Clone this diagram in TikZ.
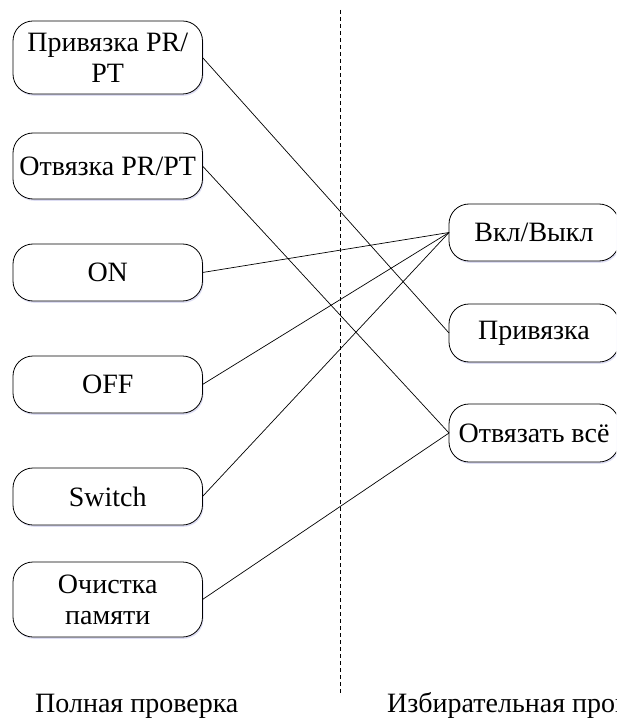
\documentclass[tikz,border=0pt]{standalone}
\usepackage{fontspec}
\setmainfont{Liberation Serif}
\usetikzlibrary{shadows}
\begin{document}
\begin{tikzpicture}[x=1pt,y=-1pt,
  box/.style={draw=black, line width=0.8pt, fill=white, rounded corners=20pt,
    inner sep=0pt, outer sep=0pt, align=center,
    font=\fontsize{28pt}{31pt}\selectfont,
    drop shadow={shadow xshift=1pt, shadow yshift=-1.8pt, fill=blue!50!gray, opacity=0.18}},
  lbox/.style={box, minimum width=189.5pt},
  rbox/.style={box, minimum width=170pt},
  link/.style={draw=black, line width=0.7pt},
  caption/.style={inner sep=0pt, anchor=base west, font=\fontsize{28pt}{31pt}\selectfont}]
\useasboundingbox (0,0) rectangle (616,719);
\clip (0,0) rectangle (616,719);

% separator between the two groups
\draw[line width=0.8pt, dash pattern=on 4pt off 3pt] (340.7,10) coordinate (sepTop) -- (340.7,693) coordinate (sepBot);

% left column: full check commands
\node[lbox, minimum height=73pt] (bind)   at (107.75,57.5)  {Привязка PR/\\PT};
\node[lbox, minimum height=66pt] (unbind) at (107.75,166)   {Отвязка PR/PT};
\node[lbox, minimum height=57pt] (on)     at (107.75,272.5) {ON};
\node[lbox, minimum height=57pt] (off)    at (107.75,384.5) {OFF};
\node[lbox, minimum height=57pt] (sw)     at (107.75,496.5) {Switch};
\node[lbox, minimum height=75pt] (clr)    at (107.75,599.5) {Очистка\\памяти};

% right column: selective check commands
\node[rbox, minimum height=57pt] (onoff)  at (534,232.5) {Вкл/Выкл};
\node[rbox, minimum height=58pt] (rbind)  at (534,333)   {Привязка};
\node[rbox, minimum height=58pt] (rall)   at (534,433)   {Отвязать всё};

% mappings
\draw[link] (bind.east)   -- (rbind.west);
\draw[link] (unbind.east) -- (rall.west);
\draw[link] (on.east)     -- (onoff.west);
\draw[link] (off.east)    -- (onoff.west);
\draw[link] (sw.east)     -- (onoff.west);
\draw[link] (clr.east)    -- (rall.west);

% group captions
\node[caption] (capL) at (35,712)  {Полная проверка};
\node[caption] (capR) at (387,712) {Избирательная проверка};
\end{tikzpicture}
\end{document}
